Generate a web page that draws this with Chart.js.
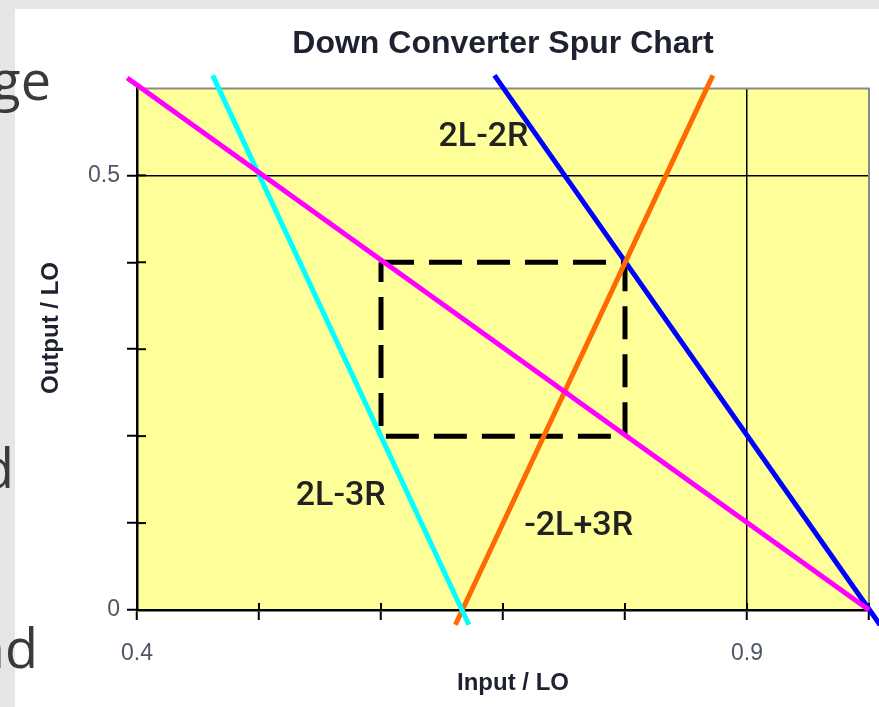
<!DOCTYPE html>
<html>
<head>
<meta charset="utf-8">
<script src="https://cdn.jsdelivr.net/npm/chart.js@4/dist/chart.umd.min.js"></script>
<style>
  body { margin: 0; background: #ffffff; }
  #wrap { position: relative; width: 879px; height: 707px; overflow: hidden; background: #ffffff; }
  .strip { position: absolute; background: #e6e6e6; }
  .slide { position: absolute; font-family: "Open Sans", "Liberation Sans", sans-serif; color: #3a3a3a; font-size: 54px; line-height: 1; white-space: nowrap; }
  canvas { position: absolute; left: 0; top: 0; }
</style>
</head>
<body>
<div id="wrap">
  <div class="strip" style="left:0;top:0;width:879px;height:9px"></div>
  <div class="strip" style="left:0;top:0;width:15px;height:707px"></div>
  <span class="slide" style="right:828px;top:52px">ge</span>
  <span class="slide" style="right:865px;top:440px">d</span>
  <span class="slide" style="right:841px;top:620px">nd</span>
  <canvas id="spurChart" width="879" height="707"></canvas>
</div>
<script>
// spur lines, endpoints in Input/LO vs Output/LO
var desiredX = [0.392, 1.0];
var desiredY = [0.612, 0.0];
var spur23X = [0.462, 0.672];     // 2L-3R
var spur23Y = [0.615, -0.017];
var spurN23X = [0.661, 0.872];    // -2L+3R
var spurN23Y = [-0.017, 0.615];
var spur22X = [0.693, 1.009];     // 2L-2R
var spur22Y = [0.615, -0.017];
// band of interest
var boxX = [0.6, 0.8, 0.8, 0.6, 0.6];
var boxY = [0.4, 0.4, 0.2, 0.2, 0.4];

var spurLabels = ['2L-2R', '2L-3R', '-2L+3R'];
var labelX = [0.684, 0.567, 0.762];
var labelY = [0.543, 0.130, 0.096];

var xTickLabels = [0.4, 0.9];
var yTickLabels = [0, 0.5];

function toPoints(xs, ys) {
    return xs.map(function (x, i) { return {x: x, y: ys[i]}; });
}

function near(a, b) {
    return Math.abs(a - b) < 1e-6;
}

function lineSet(label, xs, ys, color) {
    return {
        label: label,
        data: toPoints(xs, ys),
        showLine: true,
        borderColor: color,
        backgroundColor: color,
        borderWidth: 5,
        pointRadius: 0,
        clip: false
    };
}

var spurDecor = {
    id: 'spurDecor',
    beforeDraw: function (chart) {
        var a = chart.chartArea, ctx = chart.ctx;
        ctx.save();
        ctx.fillStyle = '#ffff99';
        ctx.fillRect(a.left, a.top, a.right - a.left, a.bottom - a.top);
        ctx.restore();
    },
    beforeDatasetsDraw: function (chart) {
        var a = chart.chartArea, ctx = chart.ctx;
        ctx.save();
        // top and right frame
        ctx.strokeStyle = '#8a8a8a';
        ctx.lineWidth = 2;
        ctx.beginPath();
        ctx.moveTo(a.left, a.top);
        ctx.lineTo(a.right, a.top);
        ctx.lineTo(a.right, a.bottom);
        ctx.stroke();
        // tick marks on the inside of the axes
        ctx.strokeStyle = '#000';
        ctx.lineWidth = 2;
        chart.scales.x.ticks.forEach(function (t) {
            var px = chart.scales.x.getPixelForValue(t.value);
            ctx.beginPath();
            ctx.moveTo(px, a.bottom);
            ctx.lineTo(px, a.bottom - 7);
            ctx.stroke();
        });
        chart.scales.y.ticks.forEach(function (t) {
            if (near(t.value, 0.6)) return;
            var py = chart.scales.y.getPixelForValue(t.value);
            ctx.beginPath();
            ctx.moveTo(a.left, py);
            ctx.lineTo(a.left + 9, py);
            ctx.stroke();
        });
        ctx.restore();
    },
    afterDatasetsDraw: function (chart) {
        var ctx = chart.ctx;
        ctx.save();
        ctx.fillStyle = '#222';
        ctx.textAlign = 'center';
        ctx.textBaseline = 'middle';
        ctx.font = '500 34px Roboto, "Liberation Sans", Arial, sans-serif';
        spurLabels.forEach(function (txt, i) {
            ctx.fillText(txt,
                chart.scales.x.getPixelForValue(labelX[i]),
                chart.scales.y.getPixelForValue(labelY[i]));
        });
        // axis titles
        ctx.fillStyle = '#1e2230';
        ctx.font = 'bold 24px "Liberation Sans", Arial, sans-serif';
        ctx.fillText('Input / LO', 513, 683);
        ctx.translate(51, 328);
        ctx.rotate(-Math.PI / 2);
        ctx.fillText('Output / LO', 0, 0);
        ctx.restore();
    }
};

new Chart(document.getElementById('spurChart').getContext('2d'), {
    type: 'scatter',
    data: {
        datasets: [
            lineSet('L-R', desiredX, desiredY, '#ff00ff'),
            lineSet('2L-3R', spur23X, spur23Y, '#00ffff'),
            lineSet('-2L+3R', spurN23X, spurN23Y, '#ff6a00'),
            lineSet('2L-2R', spur22X, spur22Y, '#0000ff'),
            {
                label: 'band',
                data: toPoints(boxX, boxY),
                showLine: true,
                borderColor: '#000',
                borderWidth: 5,
                borderDash: [33, 15],
                pointRadius: 0,
                clip: false
            }
        ]
    },
    options: {
        responsive: false,
        animation: false,
        layout: { padding: { left: 0, right: 10, top: 0, bottom: 0 } },
        plugins: {
            legend: { display: false },
            tooltip: { enabled: false },
            title: {
                display: true,
                text: 'Down Converter Spur Chart',
                fullSize: false,
                color: '#1e2230',
                font: { family: '"Liberation Sans", Arial, sans-serif', size: 32, weight: 'bold' },
                padding: { top: 25, bottom: 25 }
            }
        },
        scales: {
            x: {
                type: 'linear',
                min: 0.4,
                max: 1.0,
                ticks: {
                    stepSize: 0.1,
                    autoSkip: false,
                    maxRotation: 0,
                    padding: 20,
                    color: '#4d5566',
                    font: { family: '"Liberation Sans", Arial, sans-serif', size: 23 },
                    callback: function (v) {
                        var hit = xTickLabels.find(function (l) { return near(l, v); });
                        return hit !== undefined ? String(hit) : '';
                    }
                },
                grid: {
                    color: function (c) { return c.tick && near(c.tick.value, 0.9) ? '#000' : 'rgba(0,0,0,0)'; },
                    lineWidth: 1.5,
                    tickColor: '#000',
                    tickWidth: 2,
                    tickLength: 10
                },
                border: { color: '#000', width: 2.5 },
                afterFit: function (s) { s.height = 97; s.paddingLeft = 0; s.paddingRight = 0; }
            },
            y: {
                type: 'linear',
                min: 0,
                max: 0.6,
                ticks: {
                    stepSize: 0.1,
                    autoSkip: false,
                    padding: 7,
                    color: '#4d5566',
                    font: { family: '"Liberation Sans", Arial, sans-serif', size: 23 },
                    callback: function (v) {
                        var hit = yTickLabels.find(function (l) { return near(l, v); });
                        return hit !== undefined ? String(hit) : '';
                    }
                },
                grid: {
                    color: function (c) { return c.tick && near(c.tick.value, 0.5) ? '#000' : 'rgba(0,0,0,0)'; },
                    lineWidth: 1.5,
                    tickColor: function (c) { return c.tick && near(c.tick.value, 0.6) ? 'rgba(0,0,0,0)' : '#000'; },
                    tickWidth: 2,
                    tickLength: 10
                },
                border: { color: '#000', width: 2.5 },
                afterFit: function (s) { s.width = 137; s.paddingTop = 0; s.paddingBottom = 0; }
            }
        }
    },
    plugins: [spurDecor]
});
</script>
</body>
</html>
